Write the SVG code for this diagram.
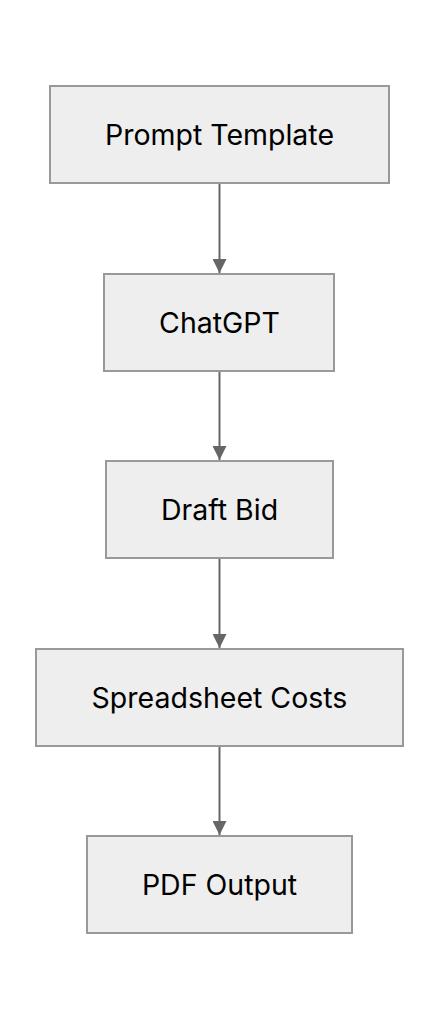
<svg xmlns="http://www.w3.org/2000/svg" width="440" height="1020" viewBox="0 0 440 1020">
<style>
.box{fill:#eeeeee;stroke:#999999;stroke-width:2}
.lbl{font-family:Inter,"Liberation Sans",sans-serif;font-size:28.5px;fill:#000;text-anchor:middle}
.edge{stroke:#666666;stroke-width:2;fill:none}
</style>
<defs>
<marker id="ah" viewBox="0 0 14 14" refX="14" refY="7" markerWidth="14" markerHeight="14" markerUnits="userSpaceOnUse" orient="auto">
<path d="M0,0 L14,7 L0,14 Z" fill="#666666"/>
</marker>
</defs>
<rect width="440" height="1020" fill="#ffffff"/>
<g id="connectors">
<line class="edge" x1="219.5" y1="183" x2="219.5" y2="273" marker-end="url(#ah)"/>
<line class="edge" x1="219.5" y1="371" x2="219.5" y2="460" marker-end="url(#ah)"/>
<line class="edge" x1="219.5" y1="558" x2="219.5" y2="648" marker-end="url(#ah)"/>
<line class="edge" x1="219.5" y1="746" x2="219.5" y2="835" marker-end="url(#ah)"/>
</g>
<g id="prompt-template">
<rect class="box" x="50" y="86" width="339" height="97"/>
<text class="lbl" x="219.5" y="144.5">Prompt Template</text>
</g>
<g id="chatgpt">
<rect class="box" x="104" y="274" width="230" height="97"/>
<text class="lbl" x="219.5" y="332.5">ChatGPT</text>
</g>
<g id="draft-bid">
<rect class="box" x="106" y="461" width="227" height="97"/>
<text class="lbl" x="219.5" y="519.5">Draft Bid</text>
</g>
<g id="spreadsheet-costs">
<rect class="box" x="36" y="649" width="367" height="97"/>
<text class="lbl" x="219.5" y="707.5">Spreadsheet Costs</text>
</g>
<g id="pdf-output">
<rect class="box" x="87" y="836" width="265" height="97"/>
<text class="lbl" x="219.5" y="894.5">PDF Output</text>
</g>
</svg>
